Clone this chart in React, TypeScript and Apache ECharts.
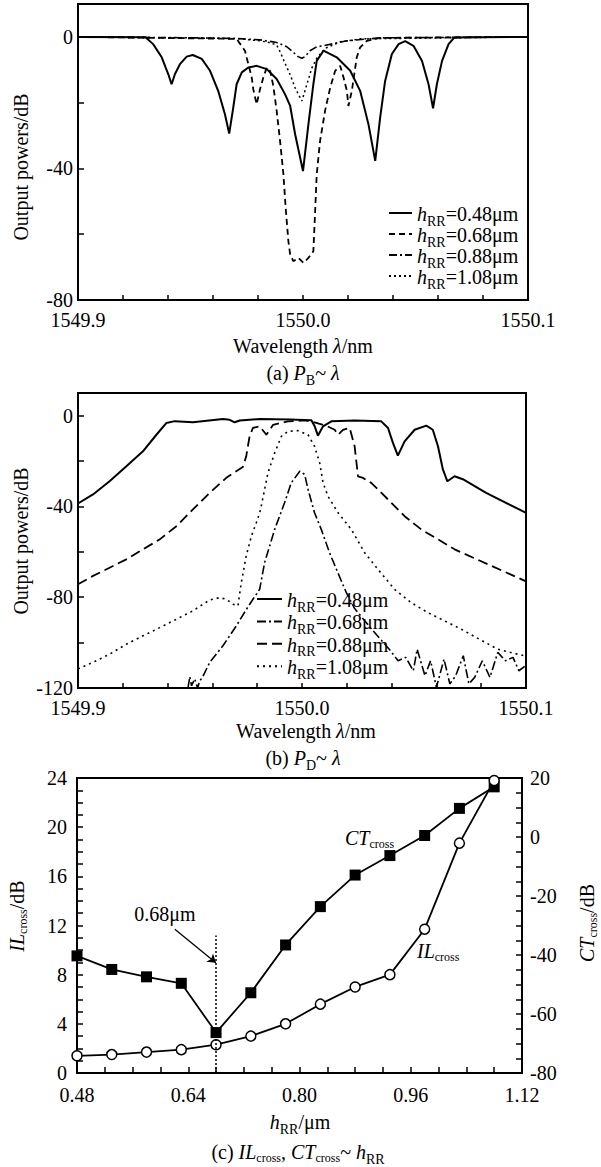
import React, { useEffect, useRef } from "react";
import * as echarts from "echarts";

const FONT = "'Liberation Serif', 'Times New Roman', serif";

// ---------- Panel (a): P_B ~ lambda  [wavelength nm, dB]
const pbSolid048: number[][] = [
  [1549.9, 0], [1549.93, -0.1], [1549.9334, -2.2], [1549.9372, -6.2], [1549.9401, -11.3], [1549.9416, -14.4],
  [1549.9431, -11.3], [1549.9453, -8.3], [1549.9483, -6.0], [1549.951, -5.5], [1549.955, -6.7], [1549.9587, -10.3],
  [1549.9623, -16.4], [1549.9653, -23.5], [1549.9672, -29.4], [1549.969, -21.5], [1549.9705, -14.4], [1549.9728, -10.8],
  [1549.9757, -9.3], [1549.9794, -8.8], [1549.9839, -9.8], [1549.9883, -12.8], [1549.992, -17.4], [1549.9943, -21.0],
  [1549.9965, -29.6], [1550.0, -40.8], [1550.0024, -26.6], [1550.0046, -14.4], [1550.0061, -7.3], [1550.0091, -4.2],
  [1550.015, -6.2], [1550.021, -10.3], [1550.0254, -16.4], [1550.0291, -26.6], [1550.0321, -37.7], [1550.0343, -24.5],
  [1550.0365, -13.4], [1550.0395, -5.2], [1550.0425, -2.2], [1550.0454, -1.3], [1550.0491, -2.7], [1550.0529, -7.3],
  [1550.0558, -14.4], [1550.0578, -21.7], [1550.0595, -14.4], [1550.0618, -7.3], [1550.0647, -2.2], [1550.0672, -0.2],
  [1550.1, 0],
];
const pbDash068: number[][] = [
  [1549.9, 0], [1549.9705, -0.6], [1549.9742, -4.2], [1549.9757, -8.3], [1549.9772, -12.3], [1549.9779, -15.9],
  [1549.9794, -20.5], [1549.9809, -15.9], [1549.9824, -12.3], [1549.9839, -9.3], [1549.9854, -10.4], [1549.9868, -14.9],
  [1549.9883, -22.5], [1549.9898, -31.6], [1549.9913, -41.8], [1549.9923, -52.0], [1549.9935, -62.1], [1549.9943, -66.2],
  [1549.9957, -68.2], [1549.998, -67.2], [1550.0002, -68.7], [1550.0024, -67.2], [1550.0046, -65.2], [1550.0054, -53.0],
  [1550.0061, -41.8], [1550.0076, -31.6], [1550.0098, -22.5], [1550.0121, -15.4], [1550.0143, -10.3], [1550.0165, -8.8],
  [1550.018, -12.3], [1550.0195, -16.4], [1550.0202, -21.0], [1550.0217, -16.4], [1550.0228, -11.3], [1550.0239, -6.2],
  [1550.0254, -3.2], [1550.0284, -1.2], [1550.0343, -0.3], [1550.1, 0],
];
const pbDashDot088: number[][] = [
  [1549.9, 0], [1549.9542, -0.3], [1549.9705, -0.5], [1549.9809, -0.9], [1549.9883, -1.7], [1549.9928, -3.0],
  [1549.9957, -4.7], [1549.9978, -6.0], [1549.9995, -6.5], [1550.0009, -6.0], [1550.0031, -4.2], [1550.0061, -3.0],
  [1550.0091, -2.7], [1550.0195, -1.2], [1550.0343, -0.3], [1550.1, 0],
];
const pbDot108: number[][] = [
  [1549.9, 0], [1549.9705, -0.5], [1549.9809, -1.2], [1549.9854, -1.8], [1549.9883, -2.5], [1549.9898, -4.5],
  [1549.992, -8.0], [1549.9943, -11.5], [1549.9965, -15.5], [1549.9995, -19.5], [1550.0017, -14.5], [1550.0039, -9.5],
  [1550.0061, -6.5], [1550.0098, -3.5], [1550.0165, -1.5], [1550.0254, -0.6], [1550.1, 0],
];

// ---------- Panel (b): P_D ~ lambda
const pdSolid048: number[][] = [
  [1549.9, -38.7], [1549.9067, -34.7], [1549.9141, -28.9], [1549.9216, -22.3], [1549.929, -15.7], [1549.935, -8.4],
  [1549.9395, -3.2], [1549.9432, -2.4], [1549.9513, -2.9], [1549.9647, -1.5], [1549.9677, -1.8], [1549.9699, -2.9],
  [1549.9722, -2.1], [1549.9811, -1.5], [1549.9945, -1.7], [1550.0042, -2.0], [1550.0056, -4.5], [1550.0071, -8.8],
  [1550.0094, -4.7], [1550.0131, -2.5], [1550.0235, -2.1], [1550.0354, -2.5], [1550.0384, -5.4], [1550.0406, -12.0],
  [1550.0428, -17.6], [1550.0458, -11.3], [1550.0503, -6.2], [1550.0555, -4.4], [1550.0584, -6.2], [1550.0607, -13.5],
  [1550.0629, -23.7], [1550.0649, -28.9], [1550.0681, -26.7], [1550.0718, -28.0], [1550.0822, -34.0], [1550.1, -42.8],
];
const pdDashDot068: number[][] = [
  [1549.9491, -120], [1549.9499, -115], [1549.9507, -119], [1549.9521, -116], [1549.9534, -120], [1549.9543, -117],
  [1549.9557, -115], [1549.9588, -108.7], [1549.9647, -101.4], [1549.9707, -92.6], [1549.9752, -85.3], [1549.9781, -80.9],
  [1549.9811, -76.5], [1549.9833, -64.8], [1549.9878, -50.1], [1549.9922, -38.4], [1549.9952, -29.6], [1549.999, -24.5],
  [1550.0012, -25.9], [1550.0027, -32.5], [1550.0056, -42.8], [1550.0086, -50.1], [1550.0123, -60.4], [1550.016, -69.2],
  [1550.0198, -78.0], [1550.0235, -85.0], [1550.0302, -93.0], [1550.0395, -103.6], [1550.0429, -108.0], [1550.0463, -106.5],
  [1550.0497, -112.4], [1550.0514, -102.9], [1550.0549, -114.6], [1550.0574, -108.0], [1550.06, -119.7], [1550.0634, -107.3],
  [1550.066, -118.2], [1550.0686, -114.6], [1550.072, -105.8], [1550.0745, -118.2], [1550.0771, -115.3], [1550.0805, -108.0],
  [1550.0839, -115.3], [1550.0874, -104.3], [1550.0908, -108.0], [1550.0942, -106.5], [1550.0968, -112.4], [1550.1, -110.0],
];
const pdDash088: number[][] = [
  [1549.9, -74.3], [1549.9067, -70.6], [1549.9141, -67.0], [1549.9216, -63.3], [1549.929, -58.9], [1549.9365, -54.5],
  [1549.9439, -48.7], [1549.9513, -41.3], [1549.9588, -34.0], [1549.9662, -27.4], [1549.9736, -22.6], [1549.9751, -17.9],
  [1549.9766, -9.1], [1549.9781, -5.4], [1549.9811, -4.7], [1549.9841, -8.4], [1549.9871, -4.0], [1549.9937, -2.5],
  [1550.0012, -2.1], [1550.0056, -2.9], [1550.011, -4.5], [1550.0146, -6.2], [1550.0161, -8.4], [1550.0183, -6.2],
  [1550.0213, -5.4], [1550.0235, -13.5], [1550.025, -26.7], [1550.0272, -27.4], [1550.0309, -29.6], [1550.0384, -36.9],
  [1550.0458, -44.3], [1550.0532, -50.1], [1550.0607, -54.5], [1550.0681, -58.9], [1550.1, -73.0],
];
const pdDot108: number[][] = [
  [1549.9, -111.6], [1549.9067, -108.7], [1549.9141, -105.1], [1549.9216, -100.7], [1549.929, -97.0], [1549.9365, -93.4],
  [1549.9439, -89.7], [1549.9513, -86.0], [1549.9588, -81.2], [1549.9632, -80.2], [1549.9662, -80.9], [1549.9692, -83.1],
  [1549.9714, -83.8], [1549.9729, -73.6], [1549.9751, -61.8], [1549.9774, -53.1], [1549.9796, -47.2], [1549.9811, -42.8],
  [1549.9818, -39.9], [1549.9848, -25.2], [1549.9878, -16.4], [1549.9908, -9.1], [1549.9937, -6.9], [1549.9982, -6.6],
  [1550.0027, -8.4], [1550.0056, -13.5], [1550.0079, -20.8], [1550.0094, -29.6], [1550.0116, -35.5], [1550.0161, -42.8],
  [1550.022, -50.1], [1550.028, -60.4], [1550.0339, -67.7], [1550.0413, -76.5], [1550.0488, -82.4], [1550.0562, -86.8],
  [1550.0636, -90.4], [1550.0711, -94.1], [1550.0873, -102.9], [1550.1, -106.0],
];

// ---------- Panel (c): IL_cross, CT_cross ~ h_RR
const hRR = [0.48, 0.53, 0.58, 0.63, 0.68, 0.73, 0.78, 0.83, 0.88, 0.93, 0.98, 1.03, 1.08];
const ilCross = [1.4, 1.5, 1.7, 1.9, 2.3, 3.0, 4.0, 5.6, 7.0, 8.0, 11.7, 18.7, 23.8];
const ctCross = [-40.3, -44.9, -47.4, -49.6, -66.3, -52.8, -36.6, -23.6, -12.9, -6.3, 0.5, 9.7, 17.0];

// tick / label values
const xTicksAB = [1549.9, 1549.92, 1549.94, 1549.96, 1549.98, 1550.0, 1550.02, 1550.04, 1550.06, 1550.08, 1550.1];
const xLabelsAB = [1549.9, 1550.0, 1550.1];
const yTicksA = [-80, -60, -40, -20, 0];
const yLabelsA = [-80, -40, 0];
const yTicksB = [-120, -100, -80, -60, -40, -20, 0];
const yLabelsB = [-120, -80, -40, 0];
const xTicksC = [0.48, 0.52, 0.56, 0.6, 0.64, 0.68, 0.72, 0.76, 0.8, 0.84, 0.88, 0.92, 0.96, 1.0, 1.04, 1.08, 1.12];
const xLabelsC = [0.48, 0.64, 0.8, 0.96, 1.12];
const yTicksCL = Array.from({ length: 25 }, (_, i) => i);
const yLabelsCL = [0, 4, 8, 12, 16, 20, 24];
const yTicksCR = [-80, -75, -70, -65, -60, -55, -50, -45, -40, -35, -30, -25, -20, -15, -10, -5, 0, 5, 10, 15, 20];
const yLabelsCR = [-80, -60, -40, -20, 0, 20];

const legendA: Record<string, string> = { a1: "0.48", a2: "0.68", a3: "0.88", a4: "1.08" };
const legendB: Record<string, string> = { b1: "0.48", b2: "0.68", b3: "0.88", b4: "1.08" };

const rich = {
  n: { fontSize: 20, fontFamily: FONT, lineHeight: 18, verticalAlign: "top", color: "#000" },
  i: { fontSize: 20, fontFamily: FONT, fontStyle: "italic", lineHeight: 18, verticalAlign: "top", color: "#000" },
  s: { fontSize: 14, fontFamily: FONT, lineHeight: 12, padding: [10, 0, 0, 0], verticalAlign: "top", color: "#000" },
  c: { fontSize: 12, fontFamily: FONT, lineHeight: 12, padding: [10, 0, 0, 0], verticalAlign: "top", color: "#000" },
};

const labelStyle = { fontSize: 20, fontFamily: FONT, color: "#000" };

function txt(text: string, x: number, y: number, rotation = 0, align = "center") {
  return {
    type: "text",
    x,
    y,
    rotation,
    silent: true,
    style: { text, rich, align, verticalAlign: "middle", fill: "#000", font: `20px ${FONT}` },
  };
}

function valueAxis(gridIndex: number, min: number, max: number, interval: number, ticks: number[], labels: number[], fmt: (v: number) => string, extra: any = {}) {
  return {
    type: "value",
    gridIndex,
    min,
    max,
    interval,
    axisLine: { show: true, onZero: false, lineStyle: { color: "#000", width: 2 } },
    axisTick: { show: true, inside: true, length: 6, customValues: ticks, lineStyle: { color: "#000", width: 1.5 } },
    axisLabel: { show: true, customValues: labels, formatter: fmt, margin: 9, ...labelStyle },
    splitLine: { show: false },
    ...extra,
  };
}

function lineSeries(name: string, data: number[][], idx: number, type: any, width: number) {
  return {
    type: "line",
    name,
    data,
    xAxisIndex: idx,
    yAxisIndex: idx,
    symbol: "none",
    showSymbol: false,
    clip: true,
    lineStyle: { color: "#000", width, type },
    itemStyle: { color: "#000" },
  };
}

export default function App() {
  const ref = useRef<HTMLDivElement>(null);
  useEffect(() => {
    if (!ref.current) return;
    const chart = echarts.init(ref.current, undefined, { renderer: "svg" });
    const gridStyle = { show: true, borderColor: "#000", borderWidth: 2, backgroundColor: "transparent" };
    const xTickAB = { show: true, inside: true, length: 5, customValues: xTicksAB, lineStyle: { color: "#000", width: 1.5 } };
    const xLabelAB = { customValues: xLabelsAB, formatter: (v: number) => v.toFixed(1), margin: 10, ...labelStyle };
    const option: any = {
      animation: false,
      backgroundColor: "#fff",
      grid: [
        { left: 78, top: 4, width: 450, height: 296, ...gridStyle },
        { left: 78, top: 393, width: 448, height: 295, ...gridStyle },
        { left: 77, top: 778, width: 445, height: 295, ...gridStyle },
      ],
      xAxis: [
        valueAxis(0, 1549.9, 1550.1, 0.02, xTicksAB, xLabelsAB, (v) => v.toFixed(1), { axisTick: xTickAB, axisLabel: xLabelAB }),
        valueAxis(1, 1549.9, 1550.1, 0.02, xTicksAB, xLabelsAB, (v) => v.toFixed(1), { axisTick: xTickAB, axisLabel: xLabelAB }),
        valueAxis(2, 0.48, 1.12, 0.04, xTicksC, xLabelsC, (v) => v.toFixed(2), { axisLabel: { customValues: xLabelsC, formatter: (v: number) => v.toFixed(2), margin: 12, ...labelStyle } }),
      ],
      yAxis: [
        valueAxis(0, -80, 10, 20, yTicksA, yLabelsA, (v) => String(v), { axisLabel: { customValues: yLabelsA, margin: 5, ...labelStyle } }),
        valueAxis(1, -120, 10, 20, yTicksB, yLabelsB, (v) => String(v), { axisLabel: { customValues: yLabelsB, margin: 5, ...labelStyle } }),
        valueAxis(2, 0, 24, 4, yTicksCL, yLabelsCL, (v) => String(v), { axisLabel: { customValues: yLabelsCL, margin: 10, ...labelStyle } }),
        valueAxis(2, -80, 20, 20, yTicksCR, yLabelsCR, (v) => String(v), { position: "right", axisLabel: { customValues: yLabelsCR, margin: 8, ...labelStyle } }),
      ],
      legend: [
        {
          data: ["a1", "a2", "a3", "a4"],
          orient: "vertical",
          left: 383,
          top: 199,
          itemWidth: 23,
          itemHeight: 14,
          itemGap: -3,
          selectedMode: false,
          itemStyle: { opacity: 0 },
          formatter: (n: string) => `{i|h}{s|RR}{n|=${legendA[n]}μm}`,
          textStyle: { rich },
        },
        {
          data: ["b1", "b2", "b3", "b4"],
          orient: "vertical",
          left: 251,
          top: 585,
          itemWidth: 25,
          itemHeight: 14,
          itemGap: -1.6,
          selectedMode: false,
          itemStyle: { opacity: 0 },
          formatter: (n: string) => `{i|h}{s|RR}{n|=${legendB[n]}μm}`,
          textStyle: { rich },
        },
      ],
      series: [
        lineSeries("a4", pbDot108, 0, [2, 3], 1.5),
        lineSeries("a3", pbDashDot088, 0, [8, 3, 2, 3], 1.6),
        lineSeries("a2", pbDash068, 0, [6, 4], 1.8),
        lineSeries("a1", pbSolid048, 0, "solid", 2),
        lineSeries("b4", pdDot108, 1, [2, 4], 1.6),
        lineSeries("b3", pdDash088, 1, [10, 5], 1.8),
        lineSeries("b2", pdDashDot068, 1, [9, 3, 2, 3], 1.6),
        lineSeries("b1", pdSolid048, 1, "solid", 2),
        {
          type: "line",
          name: "CT",
          xAxisIndex: 2,
          yAxisIndex: 3,
          data: hRR.map((h, k) => [h, ctCross[k]]),
          symbol: "rect",
          symbolSize: 11,
          lineStyle: { color: "#000", width: 1.8 },
          itemStyle: { color: "#000" },
          markLine: {
            silent: true,
            symbol: ["none", "none"],
            label: { show: false },
            lineStyle: { color: "#000", width: 1.5, type: [2, 2] },
            data: [[{ coord: [0.68, -80] }, { coord: [0.68, -33.4] }]],
          },
        },
        {
          type: "line",
          name: "IL",
          xAxisIndex: 2,
          yAxisIndex: 2,
          data: hRR.map((h, k) => [h, ilCross[k]]),
          symbol: "circle",
          symbolSize: 10,
          lineStyle: { color: "#000", width: 1.8 },
          itemStyle: { color: "#fff", borderColor: "#000", borderWidth: 1.5 },
          markLine: {
            silent: true,
            symbol: ["none", "arrow"],
            symbolSize: 8,
            label: { show: false },
            lineStyle: { color: "#000", width: 1.3, type: "solid" },
            data: [[{ coord: [0.6207, 11.69] }, { coord: [0.6797, 8.97] }]],
          },
          markPoint: {
            silent: true,
            symbol: "circle",
            symbolSize: 1,
            itemStyle: { color: "rgba(0,0,0,0)" },
            label: { show: true, position: "inside", formatter: "0.68μm", ...labelStyle },
            data: [{ coord: [0.6063, 12.94] }],
          },
        },
      ],
      graphic: [
        txt("{n|Output powers/dB}", 20, 167, Math.PI / 2),
        txt("{n|Wavelength }{i|λ}{n|/nm}", 303, 345),
        txt("{n|(a) }{i|P}{s|B}{n|~ }{i|λ}", 303, 372),
        txt("{n|Output powers/dB}", 20, 541, Math.PI / 2),
        txt("{n|Wavelength }{i|λ}{n|/nm}", 306, 730),
        txt("{n|(b) }{i|P}{s|D}{n|~ }{i|λ}", 303, 757),
        txt("{i|h}{s|RR}{n|/μm}", 300, 1121),
        txt("{n|(c) }{i|IL}{c|cross}{n|, }{i|CT}{c|cross}{n|~ }{i|h}{s|RR}", 298, 1151),
        txt("{i|IL}{c|cross}{n|/dB}", 16, 916, Math.PI / 2),
        txt("{i|CT}{c|cross}{n|/dB}", 586, 923, Math.PI / 2),
        txt("{i|CT}{c|cross}", 345, 837, 0, "left"),
        txt("{i|IL}{c|cross}", 417, 950, 0, "left"),
      ],
    };
    chart.setOption(option);
    return () => chart.dispose();
  }, []);
  return (
    <div
      ref={ref}
      style={{ position: "absolute", left: 0, top: 0, width: 601, height: 1167, background: "#fff" }}
    />
  );
}
